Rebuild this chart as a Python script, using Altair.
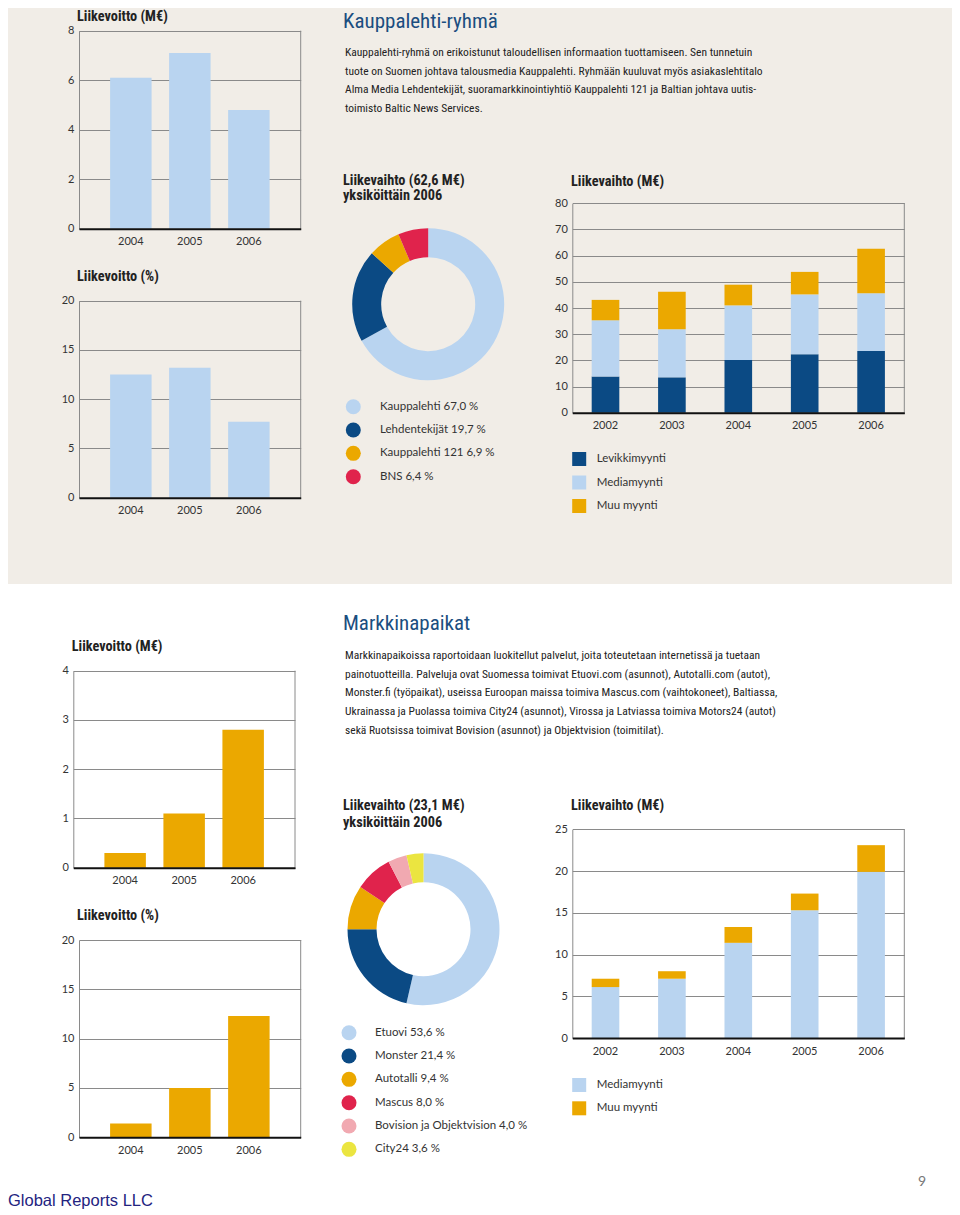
import altair as alt
import pandas as pd

# ---------------- layout constants ----------------
W = 944
H_TOP = 576
H_BOT = 623
OX = 8
OY_TOP = 8
OY_BOT = 584

BEIGE = "#f1ede7"
LIGHT = "#b9d4f0"
DARK = "#0b4a84"
ORANGE = "#eba800"
RED = "#e0234c"
PINK = "#f1a9b1"
YELLOW = "#ebe540"
GRID = "#8a8a8a"
TXT = "#222222"
HEAD = "#1b4e80"

NARROW = "Noto Sans Condensed, Roboto Condensed, Roboto, sans-serif"
NUM_FONT = "Lato, Open Sans, sans-serif"

# ---------------- data ----------------
years3 = ["2004", "2005", "2006"]
years5 = ["2002", "2003", "2004", "2005", "2006"]

kl_profit_meur = [6.1, 7.1, 4.8]
kl_profit_pct = [12.5, 13.2, 7.7]
kl_series = ["Levikkimyynti", "Mediamyynti", "Muu myynti"]
kl_levikki = [13.8, 13.5, 20.1, 22.3, 23.6]
kl_media = [21.5, 18.4, 20.9, 22.9, 22.0]
kl_muu = [7.8, 14.3, 7.9, 8.6, 17.0]
kl_units = ["Kauppalehti", "Lehdentekijät", "Kauppalehti 121", "BNS"]
kl_unit_share = [67.0, 19.7, 6.9, 6.4]

mp_profit_meur = [0.3, 1.1, 2.8]
mp_profit_pct = [1.4, 5.0, 12.3]
mp_series = ["Mediamyynti", "Muu myynti"]
mp_media = [6.1, 7.1, 11.4, 15.3, 19.9]
mp_muu = [1.0, 0.9, 1.9, 2.0, 3.2]
mp_units = ["Etuovi", "Monster", "Autotalli", "Mascus", "Bovision ja Objektvision", "City24"]
mp_unit_share = [53.6, 21.4, 9.4, 8.0, 4.0, 3.6]

kl_heading = ["Kauppalehti-ryhmä"]
kl_body = [
    "Kauppalehti-ryhmä on erikoistunut taloudellisen informaation tuottamiseen. Sen tunnetuin",
    "tuote on Suomen johtava talousmedia Kauppalehti. Ryhmään kuuluvat myös asiakaslehtitalo",
    "Alma Media Lehdentekijät, suoramarkkinointiyhtiö Kauppalehti 121 ja Baltian johtava uutis-",
    "toimisto Baltic News Services.",
]
mp_heading = ["Markkinapaikat"]
mp_body = [
    "Markkinapaikoissa raportoidaan luokitellut palvelut, joita toteutetaan internetissä ja tuetaan",
    "painotuotteilla. Palveluja ovat Suomessa toimivat Etuovi.com (asunnot), Autotalli.com (autot),",
    "Monster.fi (työpaikat), useissa Euroopan maissa toimiva Mascus.com (vaihtokoneet), Baltiassa,",
    "Ukrainassa ja Puolassa toimiva City24 (asunnot), Virossa ja Latviassa toimiva Motors24 (autot)",
    "sekä Ruotsissa toimivat Bovision (asunnot) ja Objektvision (toimitilat).",
]
title_profit_meur = ["Liikevoitto (M€)"]
title_profit_pct = ["Liikevoitto (%)"]
title_sales = ["Liikevaihto (M€)"]
title_kl_donut = ["Liikevaihto (62,6 M€)", "yksiköittäin 2006"]
title_mp_donut = ["Liikevaihto (23,1 M€)", "yksiköittäin 2006"]
footer = ["Global Reports LLC"]
page_no = ["9"]


def fmt_share(name, v):
    return f"{name} {v:.1f} %".replace(".", ",")


# ---------------- helpers ----------------
def text_rows(lines, x, y_first, dy, size, font, color, weight="normal", align="left"):
    df = pd.DataFrame({"i": list(range(len(lines))), "t": lines})
    return alt.Chart(df).mark_text(
        align=align, baseline="middle", font=font, fontSize=size,
        fontWeight=weight, color=color
    ).encode(
        x=alt.value(x),
        y=alt.Y("i:Q", scale=alt.Scale(domain=[0, 1], range=[y_first, y_first + dy], nice=False, zero=False), axis=None),
        text="t:N",
    )


def x_axis(H, Y1):
    return alt.Axis(orient="bottom", offset=Y1 - H, title=None, ticks=False,
                    domainColor="#111111", domainWidth=2, labelPadding=7,
                    labelFont=NUM_FONT, labelFontSize=11, labelColor="#333333",
                    labelAngle=0, grid=False, zindex=1)


def y_axis(X0, ticks):
    return alt.Axis(orient="left", offset=-X0, values=ticks, title=None, ticks=False,
                    grid=True, gridColor=GRID, gridWidth=1, domainColor=GRID,
                    domainWidth=1, labelPadding=5, labelFont=NUM_FONT,
                    labelFontSize=11, labelColor="#333333", zindex=0)


def frame_rule(X1, ys, ymax):
    return alt.Chart(pd.DataFrame({"top": [ymax]})).mark_rule(color=GRID, strokeWidth=1).encode(
        x=alt.value(X1),
        y=alt.Y("top:Q", scale=ys, axis=None),
        y2=alt.Y2(datum=0),
    )


def bar_panel(years, values, color, box, ymax, step, H, oy, pi, po):
    x0, x1, y0, y1 = box
    X0, X1, Y0, Y1 = x0 - OX, x1 - OX, y0 - oy, y1 - oy
    df = pd.DataFrame({"year": years, "v": values})
    xs = alt.Scale(range=[X0, X1], paddingInner=pi, paddingOuter=po)
    ys = alt.Scale(domain=[0, ymax], range=[Y1, Y0], nice=False, zero=True)
    ticks = list(range(0, ymax + 1, step))
    bars = alt.Chart(df).mark_bar(color=color).encode(
        x=alt.X("year:N", sort=None, scale=xs, axis=x_axis(H, Y1)),
        y=alt.Y("v:Q", scale=ys, axis=y_axis(X0, ticks)),
    )
    return [bars, frame_rule(X1, ys, ymax)]


def stacked_panel(years, names, series, colors, box, ymax, step, H, oy):
    x0, x1, y0, y1 = box
    X0, X1, Y0, Y1 = x0 - OX, x1 - OX, y0 - oy, y1 - oy
    rows = []
    for k, (name, vals) in enumerate(zip(names, series)):
        for yr, v in zip(years, vals):
            rows.append({"year": yr, "series": name, "v": v, "ord": k})
    df = pd.DataFrame(rows)
    xs = alt.Scale(range=[X0, X1], paddingInner=0.584, paddingOuter=0.292)
    ys = alt.Scale(domain=[0, ymax], range=[Y1, Y0], nice=False, zero=True)
    ticks = list(range(0, ymax + 1, step))
    bars = alt.Chart(df).mark_bar().encode(
        x=alt.X("year:N", sort=None, scale=xs, axis=x_axis(H, Y1)),
        y=alt.Y("v:Q", stack="zero", scale=ys, axis=y_axis(X0, ticks)),
        color=alt.Color("series:N", scale=alt.Scale(domain=names, range=colors), legend=None),
        order=alt.Order("ord:Q"),
    )
    return [bars, frame_rule(X1, ys, ymax)]


def legend_rows(names, labels, colors, sym_x, text_x, y_first, dy, shape, size, oy):
    df = pd.DataFrame({"i": list(range(len(names))), "name": names, "label": labels})
    ys = alt.Scale(domain=[0, 1], range=[y_first - oy, y_first - oy + dy], nice=False, zero=False)
    cs = alt.Scale(domain=names, range=colors)
    sym = alt.Chart(df).mark_point(shape=shape, filled=True, size=size, opacity=1, strokeWidth=0).encode(
        x=alt.value(sym_x - OX),
        y=alt.Y("i:Q", scale=ys, axis=None),
        color=alt.Color("name:N", scale=cs, legend=None),
    )
    txt = alt.Chart(df).mark_text(align="left", baseline="middle", font=NUM_FONT,
                                  fontSize=11.5, color="#333333").encode(
        x=alt.value(text_x - OX),
        y=alt.Y("i:Q", scale=ys, axis=None),
        text="label:N",
    )
    return [sym, txt]


def donut(names, shares, colors, cx, cy, oy):
    df = pd.DataFrame({"name": names, "share": shares, "ord": list(range(len(names)))})
    return alt.Chart(df).mark_arc(radius=76, radius2=47).encode(
        theta=alt.Theta("share:Q", stack=True),
        color=alt.Color("name:N", scale=alt.Scale(domain=names, range=colors), legend=None),
        order=alt.Order("ord:Q"),
        x=alt.value(cx - OX),
        y=alt.value(cy - oy),
    )


def T(lines, x, y, dy, size, font, color, oy, weight="normal", align="left"):
    return text_rows(lines, x - OX, y - oy, dy, size, font, color, weight, align)


TITLE_SIZE = 14.3
BODY_SIZE = 11.5
HEAD_SIZE = 21

# ---------------- top section ----------------
kl_colors_units = [LIGHT, DARK, ORANGE, RED]
top_layers = []
top_layers += [T(title_profit_meur, 77, 17, 16, TITLE_SIZE, NARROW, TXT, OY_TOP, "bold")]
top_layers += bar_panel(years3, kl_profit_meur, LIGHT, (79, 300.7, 30.7, 228.7), 8, 2, H_TOP, OY_TOP, 0.297, 0.527)
top_layers += [T(title_profit_pct, 77, 276.5, 16, TITLE_SIZE, NARROW, TXT, OY_TOP, "bold")]
top_layers += bar_panel(years3, kl_profit_pct, LIGHT, (79, 300.7, 300.7, 497.7), 20, 5, H_TOP, OY_TOP, 0.297, 0.527)
top_layers += [T(kl_heading, 343, 22, 20, HEAD_SIZE, NARROW, HEAD, OY_TOP)]
top_layers += [T(kl_body, 345, 53, 18.67, BODY_SIZE, NARROW, TXT, OY_TOP)]
top_layers += [T(title_kl_donut, 343, 180.5, 15.7, TITLE_SIZE, NARROW, TXT, OY_TOP, "bold")]
top_layers += [donut(kl_units, kl_unit_share, kl_colors_units, 428.2, 304.2, OY_TOP)]
top_layers += legend_rows(kl_units, [fmt_share(n, v) for n, v in zip(kl_units, kl_unit_share)],
                          kl_colors_units, 353.3, 380, 406.7, 23.33, "circle", 225, OY_TOP)
top_layers += [T(title_sales, 571, 181.7, 16, TITLE_SIZE, NARROW, TXT, OY_TOP, "bold")]
top_layers += stacked_panel(years5, kl_series, [kl_levikki, kl_media, kl_muu], [DARK, LIGHT, ORANGE],
                            (572.3, 904.3, 203.3, 412.7), 80, 10, H_TOP, OY_TOP)
top_layers += legend_rows(kl_series, kl_series, [DARK, LIGHT, ORANGE], 579.2, 596.7, 459, 23.5,
                          "square", 196, OY_TOP)

top = alt.layer(*top_layers).resolve_scale(
    x="independent", y="independent", color="independent", theta="independent"
).resolve_axis(x="independent", y="independent").properties(
    width=W, height=H_TOP, view=alt.ViewBackground(fill=BEIGE, strokeWidth=0)
)

# ---------------- bottom section ----------------
mp_colors_units = [LIGHT, DARK, ORANGE, RED, PINK, YELLOW]
bot_layers = []
bot_layers += [T(title_profit_meur, 71.7, 647.3, 16, TITLE_SIZE, NARROW, TXT, OY_BOT, "bold")]
bot_layers += bar_panel(years3, mp_profit_meur, ORANGE, (73.3, 295, 670.7, 867.7), 4, 1, H_BOT, OY_BOT, 0.297, 0.527)
bot_layers += [T(title_profit_pct, 77, 915.7, 16, TITLE_SIZE, NARROW, TXT, OY_BOT, "bold")]
bot_layers += bar_panel(years3, mp_profit_pct, ORANGE, (79, 300.7, 940, 1137.3), 20, 5, H_BOT, OY_BOT, 0.297, 0.527)
bot_layers += [T(mp_heading, 343, 624, 20, HEAD_SIZE, NARROW, HEAD, OY_BOT)]
bot_layers += [T(mp_body, 345, 656, 18.67, BODY_SIZE, NARROW, TXT, OY_BOT)]
bot_layers += [T(title_mp_donut, 343, 806, 16.5, TITLE_SIZE, NARROW, TXT, OY_BOT, "bold")]
bot_layers += [donut(mp_units, mp_unit_share, mp_colors_units, 423.5, 929.2, OY_BOT)]
bot_layers += legend_rows(mp_units, [fmt_share(n, v) for n, v in zip(mp_units, mp_unit_share)],
                          mp_colors_units, 349, 375, 1032.7, 23.33, "circle", 225, OY_BOT)
bot_layers += [T(title_sales, 571, 805.7, 16, TITLE_SIZE, NARROW, TXT, OY_BOT, "bold")]
bot_layers += stacked_panel(years5, mp_series, [mp_media, mp_muu], [LIGHT, ORANGE],
                            (572.3, 904.3, 829.3, 1038), 25, 5, H_BOT, OY_BOT)
bot_layers += legend_rows(mp_series, mp_series, [LIGHT, ORANGE], 579.2, 596.7, 1085, 23.3,
                          "square", 196, OY_BOT)
bot_layers += [T(footer, 8, 1201, 16, 16.5, "Liberation Sans, Arial, sans-serif", "#23237f", OY_BOT)]
bot_layers += [T(page_no, 926, 1182, 16, 14, "Lato, sans-serif", "#777777", OY_BOT, align="right")]

bottom = alt.layer(*bot_layers).resolve_scale(
    x="independent", y="independent", color="independent", theta="independent"
).resolve_axis(x="independent", y="independent").properties(
    width=W, height=H_BOT, view=alt.ViewBackground(fill="white", strokeWidth=0)
)

chart = alt.vconcat(top, bottom, spacing=0, bounds="flush").properties(
    padding=0, background="white"
).configure_view(strokeWidth=0)

chart.save("out.html", embed_options={"renderer": "svg", "actions": False})
